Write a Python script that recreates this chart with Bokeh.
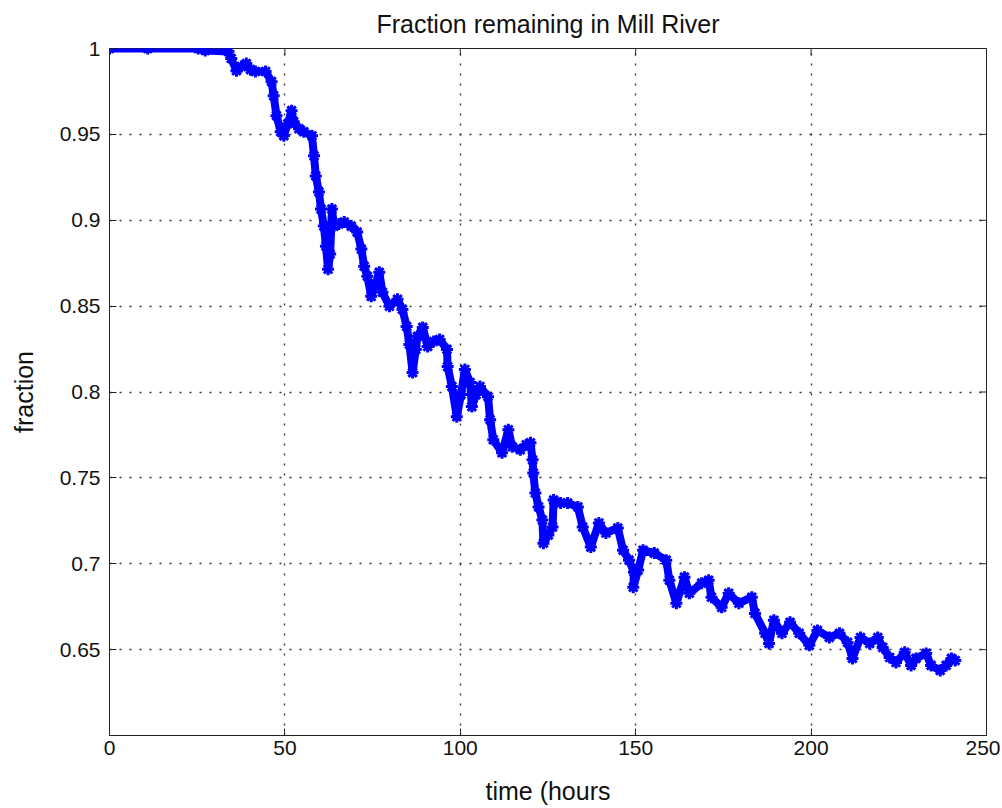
import math
from bokeh.plotting import figure
from bokeh.models import Range1d, FixedTicker
from bokeh.embed import file_html
from bokeh.resources import INLINE

# Data (time in hours, fraction remaining)
time_hours = [0.0, 10.9, 25.3, 27.3, 33.9, 34.7, 36.2, 37.6, 39.0, 40.2, 41.6, 44.5,
              46.2, 46.8, 47.6, 48.8, 49.7, 50.8, 51.9, 52.5, 54.0, 55.4, 57.7, 58.3,
              58.8, 59.7, 60.3, 61.1, 61.7, 62.3, 62.9, 63.4, 64.0, 65.4, 66.9, 68.9,
              70.6, 71.8, 72.6, 73.5, 74.6, 75.8, 76.9, 77.8, 79.8, 82.1, 83.5, 84.7,
              85.5, 86.4, 87.3, 87.8, 89.3, 90.7, 92.4, 94.1, 96.2, 96.4, 97.6, 99.0,
              100.2, 101.3, 102.8, 103.3, 104.5, 105.6, 107.9, 108.5, 109.4, 111.9,
              113.7, 114.8, 117.1, 118.8, 120.0, 120.6, 120.8, 121.4, 122.3, 123.4,
              123.7, 125.1, 126.3, 126.6, 128.6, 130.6, 133.5, 134.9, 137.2, 139.5,
              141.5, 144.9, 146.4, 148.1, 149.5, 149.3, 150.7, 152.1, 155.3, 158.7,
              159.6, 161.6, 163.9, 165.3, 168.8, 170.8, 171.6, 174.5, 176.5, 179.4,
              183.1, 184.0, 186.9, 188.0, 189.4, 191.7, 194.0, 196.6, 199.5, 201.8,
              205.2, 208.1, 210.4, 211.8, 214.1, 216.7, 219.0, 220.4, 222.4, 224.2,
              226.7, 228.5, 229.9, 232.8, 234.2, 236.8, 238.5, 240.0, 241.1]
fraction = [1.000, 1.000, 1.000, 0.9988, 0.9982, 0.9942, 0.9871, 0.9895, 0.9912, 0.9877,
            0.9866, 0.9866, 0.9807, 0.9725, 0.9609, 0.9515, 0.9492, 0.9562, 0.9638, 0.9574,
            0.9533, 0.9515, 0.9492, 0.9375, 0.9258, 0.9165, 0.9065, 0.8966, 0.8849, 0.8715,
            0.8803, 0.9065, 0.8966, 0.8978, 0.8990, 0.8966, 0.8931, 0.8832, 0.8732, 0.8674,
            0.8557, 0.8627, 0.8697, 0.8581, 0.8499, 0.8540, 0.8481, 0.8382, 0.8277, 0.8113,
            0.8248, 0.8324, 0.8376, 0.8265, 0.8294, 0.8306, 0.8248, 0.8148, 0.8032, 0.7856,
            0.7985, 0.8131, 0.8055, 0.7915, 0.7985, 0.8032, 0.7973, 0.7839, 0.7722, 0.7646,
            0.7780, 0.7681, 0.7664, 0.7693, 0.7704, 0.7605, 0.7529, 0.7412, 0.7331, 0.7255,
            0.7120, 0.7167, 0.7214, 0.7371, 0.7354, 0.7354, 0.7331, 0.7214, 0.7097, 0.7237,
            0.7179, 0.7208, 0.7079, 0.7021, 0.6951, 0.6863, 0.6963, 0.7079, 0.7062, 0.7021,
            0.6904, 0.6770, 0.6922, 0.6828, 0.6887, 0.6904, 0.6805, 0.6746, 0.6828, 0.6770,
            0.6805, 0.6711, 0.6595, 0.6536, 0.6671, 0.6595, 0.6659, 0.6595, 0.6525, 0.6612,
            0.6571, 0.6595, 0.6542, 0.6449, 0.6571, 0.6536, 0.6571, 0.6513, 0.6454, 0.6425,
            0.6484, 0.6408, 0.6449, 0.6478, 0.6408, 0.6379, 0.6408, 0.6449, 0.6437]

x_ticks = [0, 50, 100, 150, 200, 250]
y_ticks = [0.65, 0.7, 0.75, 0.8, 0.85, 0.9, 0.95, 1.0]
y_tick_labels = {0.65: "0.65", 0.7: "0.7", 0.75: "0.75", 0.8: "0.8", 0.85: "0.85",
                 0.9: "0.9", 0.95: "0.95", 1.0: "1"}
x_max, y_max = 250, 1.0

FONT = "Liberation Sans"
W, H = 1000, 808
FL, FT, FW, FH = 109, 47, 877, 688

p = figure(width=W, height=H, output_backend="svg", toolbar_location=None,
           x_range=Range1d(0, 250), y_range=Range1d(0.6, 1.0),
           min_border_left=FL, min_border_top=FT,
           min_border_right=W - FL - FW, min_border_bottom=H - FT - FH,
           title="Fraction remaining in Mill River")
p.background_fill_color = "white"
p.border_fill_color = "white"
p.outline_line_color = "#222222"
p.outline_line_width = 1

p.title.align = "center"
p.title.vertical_align = "top"
p.title.text_font = FONT
p.title.text_font_size = "25px"
p.title.text_font_style = "normal"
p.title.text_color = "#111111"
p.title.standoff = 18

for g in (p.xgrid[0], p.ygrid[0]):
    g.grid_line_color = "#333333"
    g.grid_line_dash = "2 8"
    g.grid_line_width = 1.3

p.line(time_hours, fraction, line_color="#0000FF", line_width=8, line_join="round")
p.scatter(time_hours, fraction, marker="asterisk", size=12, line_color="#0000FF", line_width=3)

xa = p.xaxis[0]
ya = p.yaxis[0]
xa.ticker = FixedTicker(ticks=x_ticks)
ya.ticker = FixedTicker(ticks=y_ticks)
ya.major_label_overrides = y_tick_labels
xa.axis_label = "time (hours"
ya.axis_label = "fraction"
for ax in (xa, ya):
    ax.axis_label_text_font = FONT
    ax.axis_label_text_font_size = "25px"
    ax.axis_label_text_font_style = "normal"
    ax.axis_label_text_color = "#111111"
    ax.major_label_text_font = FONT
    ax.major_label_text_font_size = "21px"
    ax.major_label_text_color = "#111111"
    ax.axis_line_color = "#222222"
    ax.major_tick_line_color = "#222222"
    ax.major_tick_in = 7
    ax.major_tick_out = 0
    ax.minor_tick_line_color = None
ya.axis_label_standoff = 19
xa.axis_label_standoff = 19
xa.major_label_standoff = 5
ya.major_label_standoff = 9

# inward ticks on the top and right edges of the box
p.ray(x=x_ticks, y=[y_max] * len(x_ticks), length=7, length_units="screen",
      angle=-math.pi / 2, line_color="#222222", line_width=1)
p.ray(x=[x_max] * len(y_ticks), y=y_ticks, length=7, length_units="screen",
      angle=math.pi, line_color="#222222", line_width=1)

open("out.html", "w").write(file_html(p, INLINE))
